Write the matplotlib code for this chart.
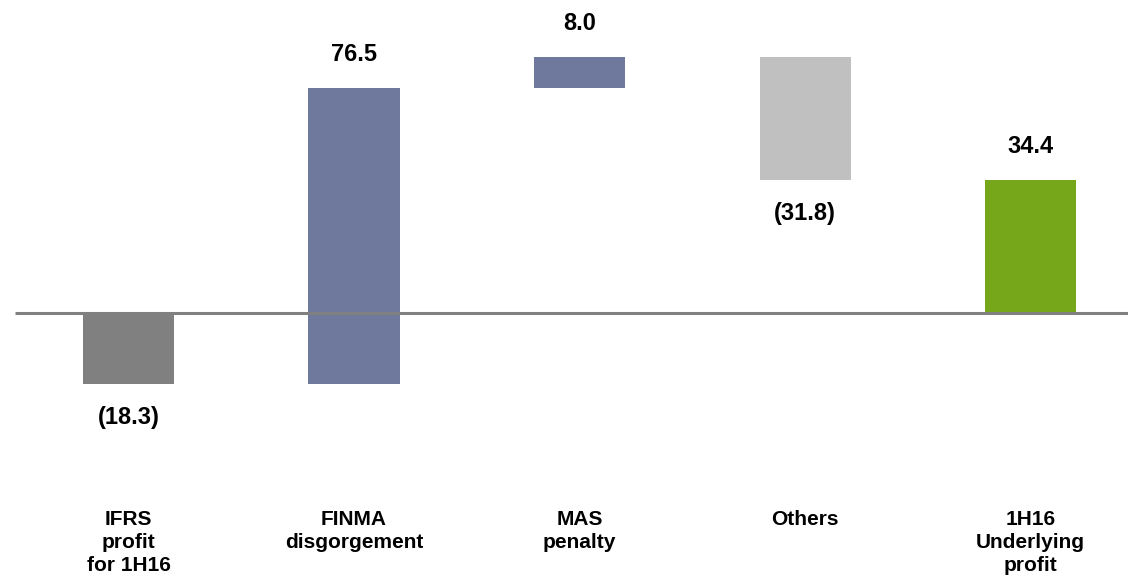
import matplotlib
matplotlib.use("Agg")
import matplotlib.pyplot as plt
import numpy as np

plt.rcParams['font.family'] = ['Liberation Sans', 'DejaVu Sans']
plt.rcParams['font.weight'] = 'bold'

# Bridge from IFRS profit to underlying profit (CHF m)
categories = ['IFRS\nprofit\nfor 1H16', 'FINMA\ndisgorgement', 'MAS\npenalty',
              'Others', '1H16\nUnderlying\nprofit']
values = [-18.3, 76.5, 8.0, -31.8, 34.4]
is_total = [True, False, False, False, True]
colors = ['#808080', '#6E799D', '#6E799D', '#C0C0C0', '#76A61A']

# floating bars: totals start at zero, steps start at the running sum
bottoms = []
running = 0.0
for v, tot in zip(values, is_total):
    if tot:
        bottoms.append(0.0)
        running = v
    else:
        bottoms.append(running)
        running += v

x = np.arange(len(values))

fig = plt.figure(figsize=(11.28, 5.78), dpi=100)
ax = fig.add_axes([0, 0, 1, 1])

ax.bar(x, values, bottom=bottoms, width=0.404, color=colors, zorder=2)
ax.plot([-0.503, 4.5], [0, 0], color='#808080', lw=2.2, zorder=3,
        solid_capstyle='butt')

for xi, v, b in zip(x, values, bottoms):
    label = f'({abs(v):.1f})' if v < 0 else f'{v:.1f}'
    dy = 24 if v >= 0 else -24
    ax.annotate(label, (xi, b + v), xytext=(0, dy), textcoords='offset points',
                ha='center', va='center', fontsize=17, fontweight='bold')

for xi, cat in zip(x, categories):
    ax.text(xi, -51.0, cat, ha='center', va='top', fontsize=15,
            fontweight='bold', linespacing=1.27)

ax.set_xlim(-0.570, 4.432)
ax.set_ylim(-68.5, 80.96)
ax.axis('off')

fig.savefig('out.png', dpi=100)
